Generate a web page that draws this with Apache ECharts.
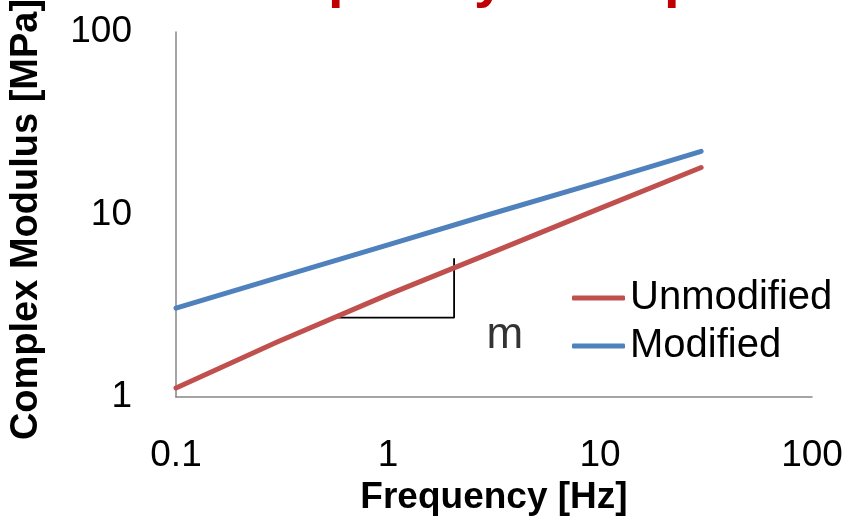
<!DOCTYPE html>
<html>
<head>
<meta charset="utf-8">
<style>html,body{margin:0;padding:0;background:#fff}#c{width:850px;height:519px}</style>
<script src="https://cdn.jsdelivr.net/npm/echarts@6/dist/echarts.min.js"></script>
</head>
<body>
<div id="c"></div>
<script>
const titleText = 'Frequency Sweep';
const xName = 'Frequency [Hz]';
const yName = 'Complex Modulus [MPa]';
const seriesNames = ['Unmodified', 'Modified'];
const freq = [0.1, 0.3, 1, 3, 10, 30];
const unmodified = [1.12, 2.0, 3.64, 6.1, 10.8, 18.1];
const modified = [3.07, 4.49, 6.81, 10.0, 15.1, 22.2];
const slopeX = [0.556, 2.05, 2.05];
const slopeY = [2.72, 2.72, 5.75];
const slopeLabel = 'm';
const slopeLabelPos = [3.56, 2.15];

const FONT = 'Liberation Sans';
const chart = echarts.init(document.getElementById('c'), null, {renderer: 'canvas'});
const pairs = (xs, ys) => xs.map((x, i) => [x, ys[i]]);

chart.setOption({
  animation: false,
  backgroundColor: '#ffffff',
  graphic: [{
    type: 'text', left: 222, top: -47, silent: true,
    style: {text: titleText, fill: '#C00000', font: 'bold 56px "Liberation Sans"'}
  }],
  grid: {left: 176, right: 38, top: 32, bottom: 122, containLabel: false, outerBoundsMode: 'none'},
  legend: {
    data: seriesNames, orient: 'vertical', left: 572, top: 278, padding: 0,
    itemWidth: 53, itemHeight: 5, itemGap: 8, icon: 'roundRect',
    textStyle: {fontFamily: FONT, fontSize: 40, color: '#000'}
  },
  xAxis: {
    type: 'log', logBase: 10, min: 0.1, max: 100,
    name: xName, nameLocation: 'middle', nameGap: 75,
    nameTextStyle: {fontFamily: FONT, fontSize: 37, fontWeight: 'bold', color: '#000'},
    axisLine: {show: true, lineStyle: {color: '#868686', width: 1.5}},
    axisTick: {show: false}, splitLine: {show: false},
    axisLabel: {fontFamily: FONT, fontSize: 37, color: '#000', margin: 40,
      formatter: v => String(+v.toPrecision(3))}
  },
  yAxis: {
    type: 'log', logBase: 10, min: 1, max: 100,
    name: yName, nameLocation: 'middle', nameGap: 130,
    nameTextStyle: {fontFamily: FONT, fontSize: 38, fontWeight: 'bold', color: '#000',
      padding: [0, 10, 0, 0]},
    axisLine: {show: true, lineStyle: {color: '#868686', width: 1.5}},
    axisTick: {show: false}, splitLine: {show: false},
    axisLabel: {fontFamily: FONT, fontSize: 37, color: '#000', margin: 44,
      formatter: v => String(+v.toPrecision(3))}
  },
  series: [
    {name: seriesNames[0], type: 'line', data: pairs(freq, unmodified), smooth: false,
     showSymbol: false, symbol: 'none', color: '#C0504D',
     lineStyle: {width: 5, color: '#C0504D', cap: 'round', join: 'round'}},
    {name: seriesNames[1], type: 'line', data: pairs(freq, modified), smooth: false,
     showSymbol: false, symbol: 'none', color: '#4F81BD',
     lineStyle: {width: 5, color: '#4F81BD', cap: 'round', join: 'round'}},
    {name: 'slope', type: 'line', data: pairs(slopeX, slopeY), symbol: 'none',
     silent: true, z: 1, lineStyle: {width: 1.8, color: '#000'}},
    {name: 'slopeLabel', type: 'scatter', data: [slopeLabelPos], symbolSize: 0, silent: true,
     label: {show: true, position: 'inside', formatter: slopeLabel,
       fontFamily: FONT, fontSize: 44, color: '#000'}}
  ]
});
</script>
</body>
</html>
